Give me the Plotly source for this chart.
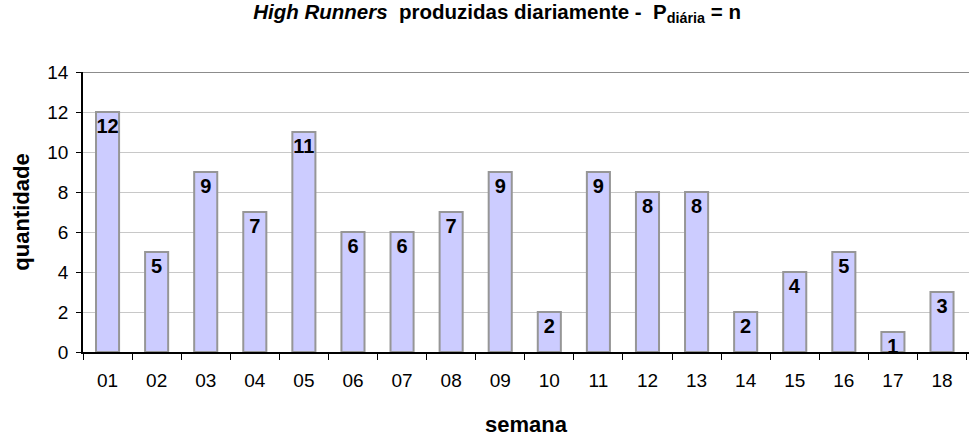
import plotly.graph_objects as go

semanas = ["01","02","03","04","05","06","07","08","09","10","11","12","13","14","15","16","17","18"]
quantidade = [12,5,9,7,11,6,6,7,9,2,9,8,8,2,4,5,1,3]
y_ticks = [0,2,4,6,8,10,12,14]

FONT = "Liberation Sans, Arial, sans-serif"

fig = go.Figure()
fig.add_trace(go.Bar(
    x=semanas, y=quantidade,
    width=0.47,
    marker=dict(color="#CCCCFF", line=dict(color="#969696", width=2)),
    text=[str(v) for v in quantidade],
    textposition="inside", insidetextanchor="end",
    constraintext="none",
    textfont=dict(family=FONT, size=20, color="black", weight="bold"),
    textangle=0,
    cliponaxis=False,
))

fig.add_shape(type="line", xref="paper", yref="y", x0=0, x1=1, y0=14, y1=14,
              line=dict(color="#8C8C8C", width=2), layer="above")

fig.update_layout(
    width=969, height=437,
    margin=dict(l=83, r=0, t=72, b=85, autoexpand=False),
    paper_bgcolor="white", plot_bgcolor="white",
    showlegend=False,
    title=dict(
        text="<i>High Runners</i>  produzidas diariamente -  P<sub>diária</sub> = n",
        x=0.513, xanchor="center", xref="container",
        y=0.989, yanchor="top", yref="container",
        font=dict(family=FONT, size=20.5, color="black", weight="bold"),
        automargin=False,
    ),
    font=dict(family=FONT, color="black"),
    xaxis=dict(
        type="category",
        range=[-0.5, 17.55],
        automargin=False,
        showline=True, linecolor="black", linewidth=1.5,
        ticks="outside", ticklen=6, tickcolor="black", tickson="boundaries",
        tickfont=dict(size=19, color="black"),
        ticklabelstandoff=10,
        showgrid=False,
        title=dict(text="semana", font=dict(size=22, weight="bold"), standoff=32),
    ),
    yaxis=dict(
        range=[0, 14], tickvals=y_ticks,
        automargin=False,
        showline=True, linecolor="black", linewidth=1.5,
        ticks="outside", ticklen=5, tickcolor="black",
        tickfont=dict(size=19, color="black"),
        ticklabelstandoff=4,
        showgrid=True, gridcolor="#C8C8C8", gridwidth=1,
        zeroline=False,
        title=dict(text="quantidade", font=dict(size=22, weight="bold"), standoff=12),
    ),
)

fig.write_html("out.html", config={"displayModeBar": False},
               post_script="document.body.style.margin='0';")
